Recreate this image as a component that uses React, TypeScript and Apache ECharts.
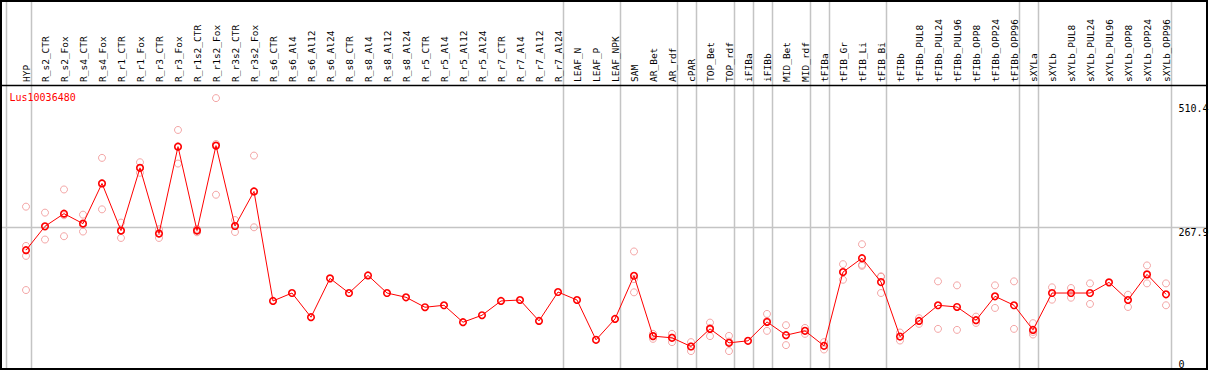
import React, { useEffect, useRef } from "react";
import * as echarts from "echarts";

const geneName = "Lus10036480";

const categories = [
  "HYP", "R_s2_CTR", "R_s2_Fox", "R_s4_CTR", "R_s4_Fox", "R_r1_CTR", "R_r1_Fox", "R_r3_CTR", "R_r3_Fox",
  "R_r1s2_CTR", "R_r1s2_Fox", "R_r3s2_CTR", "R_r3s2_Fox", "R_s6_CTR", "R_s6_Al4", "R_s6_Al12", "R_s6_Al24",
  "R_s8_CTR", "R_s8_Al4", "R_s8_Al12", "R_s8_Al24", "R_r5_CTR", "R_r5_Al4", "R_r5_Al12", "R_r5_Al24",
  "R_r7_CTR", "R_r7_Al4", "R_r7_Al12", "R_r7_Al24", "LEAF_N", "LEAF_P", "LEAF_NPK", "SAM", "AR_Bet", "AR_rdf",
  "cPAR", "TOP_Bet", "TOP_rdf", "iFIBa", "iFIBb", "MID_Bet", "MID_rdf", "tFIBa", "tFIB_Gr", "tFIB_Li", "tFIB_Bi",
  "tFIBb", "tFIBb_PUL8", "tFIBb_PUL24", "tFIBb_PUL96", "tFIBb_OPP8", "tFIBb_OPP24", "tFIBb_OPP96",
  "sXYLa", "sXYLb", "sXYLb_PUL8", "sXYLb_PUL24", "sXYLb_PUL96", "sXYLb_OPP8", "sXYLb_OPP24", "sXYLb_OPP96",
];

// number of consecutive categories in each sample group (separated by grey lines)
const groupSizes = [1, 28, 3, 3, 1, 2, 1, 1, 2, 1, 3, 7, 1, 7];

const means = [
  224.9, 269.8, 293.5, 274.8, 350.2, 261.7, 379.5, 256.1, 419.3, 261.7, 421.2, 270.3, 335.2,
  129.6, 144.5, 99.1, 172.0, 144.5, 177.6, 144.5, 136.5, 117.8, 121.5, 89.7, 102.8,
  129.6, 131.4, 92.2, 146.4, 131.4, 56.6, 95.9, 176.9, 63.6, 60.4, 44.1, 77.2, 51.0,
  54.8, 90.3, 65.4, 73.5, 45.4, 183.8, 209.9, 165.1, 62.8, 92.2, 121.5, 118.3, 93.5,
  138.3, 121.5, 75.3, 144.5, 144.5, 144.5, 164.5, 131.4, 179.5, 142.1,
];

const replicates: number[][] = [
  [306.6, 232.9, 214.2, 150.1],
  [295.4, 269.0, 244.9],
  [338.9, 290.5, 251.1],
  [291.6, 272.9, 259.9],
  [398.2, 350.8, 301.6],
  [276.7, 261.0, 247.9],
  [390.0, 378.5, 370.2],
  [264.2, 256.2, 247.9],
  [450.6, 419.8, 387.5],
  [265.0, 261.7, 258.5],
  [510.4, 424.2, 329.0],
  [281.5, 270.3, 259.1],
  [402.5, 335.2, 267.9],
  [], [], [], [], [], [], [], [], [], [], [], [], [], [], [], [], [], [], [],
  [222.5, 170.7, 145.8],
  [67.9, 64.0, 58.5],
  [67.9, 61.0, 52.3],
  [52.3, 44.5, 35.5],
  [89.0, 79.0, 63.6],
  [64.1, 53.4, 35.5],
  [],
  [105.3, 92.0, 73.5],
  [84.1, 46.7],
  [79.0, 67.9],
  [52.3, 38.5],
  [198.7, 183.3, 169.4],
  [236.1, 197.5, 195.6],
  [175.8, 175.0, 144.5],
  [70.3, 55.3],
  [97.2, 86.6],
  [166.4, 77.2],
  [158.9, 75.3],
  [100.2, 88.4],
  [158.9, 116.5],
  [166.4, 77.2],
  [87.9, 71.5, 66.6],
  [155.2, 132.0],
  [153.9, 135.7],
  [162.6, 124.0],
  [],
  [141.3, 118.3],
  [196.3, 162.6],
  [162.6, 121.5],
];

const yTickValues = [510.4, 267.9, 0];
const yTickLabels = ["510.4", "267.9", "0"];
const gridLineValue = 267.9;

const MONO = '"DejaVu Sans Mono", monospace';

export default function App() {
  const ref = useRef<HTMLDivElement>(null);

  useEffect(() => {
    if (!ref.current) return;
    const chart = echarts.init(ref.current, null, { renderer: "svg" });

    const meanData = means.map((v, i) => [i, v]);
    const repData: number[][] = [];
    replicates.forEach((arr, i) => arr.forEach((v) => repData.push([i, v])));

    chart.setOption({
      animation: false,
      backgroundColor: "#ffffff",
      grid: { left: 7, right: 24, top: 85, bottom: -1.2, containLabel: false },
      xAxis: {
        type: "value",
        min: -1,
        max: 61,
        interval: 1,
        position: "top",
        axisLine: { show: false },
        axisTick: { show: false },
        splitLine: { show: false },
        axisLabel: {
          rotate: 90,
          margin: 3,
          fontFamily: MONO,
          fontSize: 9.5,
          color: "#000",
          showMinLabel: true,
          showMaxLabel: true,
          formatter: (v: number) => categories[v] ?? "",
        },
      },
      yAxis: {
        type: "value",
        min: 0,
        max: 535,
        show: false,
      },
      series: [
        {
          type: "scatter",
          data: repData,
          symbol: "circle",
          symbolSize: 7,
          silent: true,
          z: 2,
          itemStyle: { color: "rgba(0,0,0,0)", borderColor: "#f09090", borderWidth: 1 },
        },
        {
          type: "line",
          data: meanData,
          symbol: "circle",
          symbolSize: 6.5,
          showAllSymbol: true,
          silent: true,
          z: 3,
          lineStyle: { color: "#ff0000", width: 1 },
          itemStyle: { color: "rgba(0,0,0,0)", borderColor: "#ff0000", borderWidth: 1.6 },
        },
      ],
    });

    const px = (v: number) => chart.convertToPixel({ xAxisIndex: 0 }, v) as number;
    const py = (v: number) => chart.convertToPixel({ yAxisIndex: 0 }, v) as number;

    const sepPositions: number[] = [-1.05];
    let acc = 0;
    groupSizes.forEach((n) => {
      acc += n;
      sepPositions.push(acc - 1 + 0.25);
    });

    const grey = "#c4c4c4";
    const graphics: any[] = [];
    sepPositions.forEach((p) => {
      const x = Math.round(px(p)) + 0.5;
      graphics.push({
        type: "line",
        z: 0,
        silent: true,
        shape: { x1: x, y1: 0, x2: x, y2: 369 },
        style: { stroke: grey, lineWidth: 1.5 },
      });
    });
    const gy = Math.round(py(gridLineValue)) + 0.5;
    graphics.push({
      type: "line",
      z: 0,
      silent: true,
      shape: { x1: 0, y1: gy, x2: 1208, y2: gy },
      style: { stroke: grey, lineWidth: 1.5 },
    });
    graphics.push({
      type: "line",
      z: 10,
      silent: true,
      shape: { x1: 0, y1: 85.5, x2: 1208, y2: 85.5 },
      style: { stroke: "#000", lineWidth: 1.5 },
    });
    graphics.push({
      type: "rect",
      z: 10,
      silent: true,
      shape: { x: 1, y: 1, width: 1206, height: 368 },
      style: { fill: "none", stroke: "#000", lineWidth: 2 },
    });
    yTickValues.forEach((v, k) => {
      const y = Math.min(Math.max(py(v), 103), 359);
      graphics.push({
        type: "text",
        z: 10,
        silent: true,
        x: 1178.5,
        y,
        style: {
          text: yTickLabels[k],
          fill: "#000",
          font: `10px ${MONO}`,
          align: "left",
          verticalAlign: "top",
          textAlign: "left",
          textVerticalAlign: "top",
        },
      });
    });
    graphics.push({
      type: "text",
      z: 10,
      silent: true,
      x: 9.5,
      y: 97.5,
      style: {
        text: geneName,
        fill: "#ff0000",
        font: `10px ${MONO}`,
        align: "left",
        verticalAlign: "middle",
        textAlign: "left",
        textVerticalAlign: "middle",
      },
    });

    chart.setOption({ graphic: { elements: graphics } });

    return () => chart.dispose();
  }, []);

  return (
    <div
      ref={ref}
      style={{ position: "fixed", left: 0, top: 0, width: 1209, height: 370, background: "#fff" }}
    />
  );
}
